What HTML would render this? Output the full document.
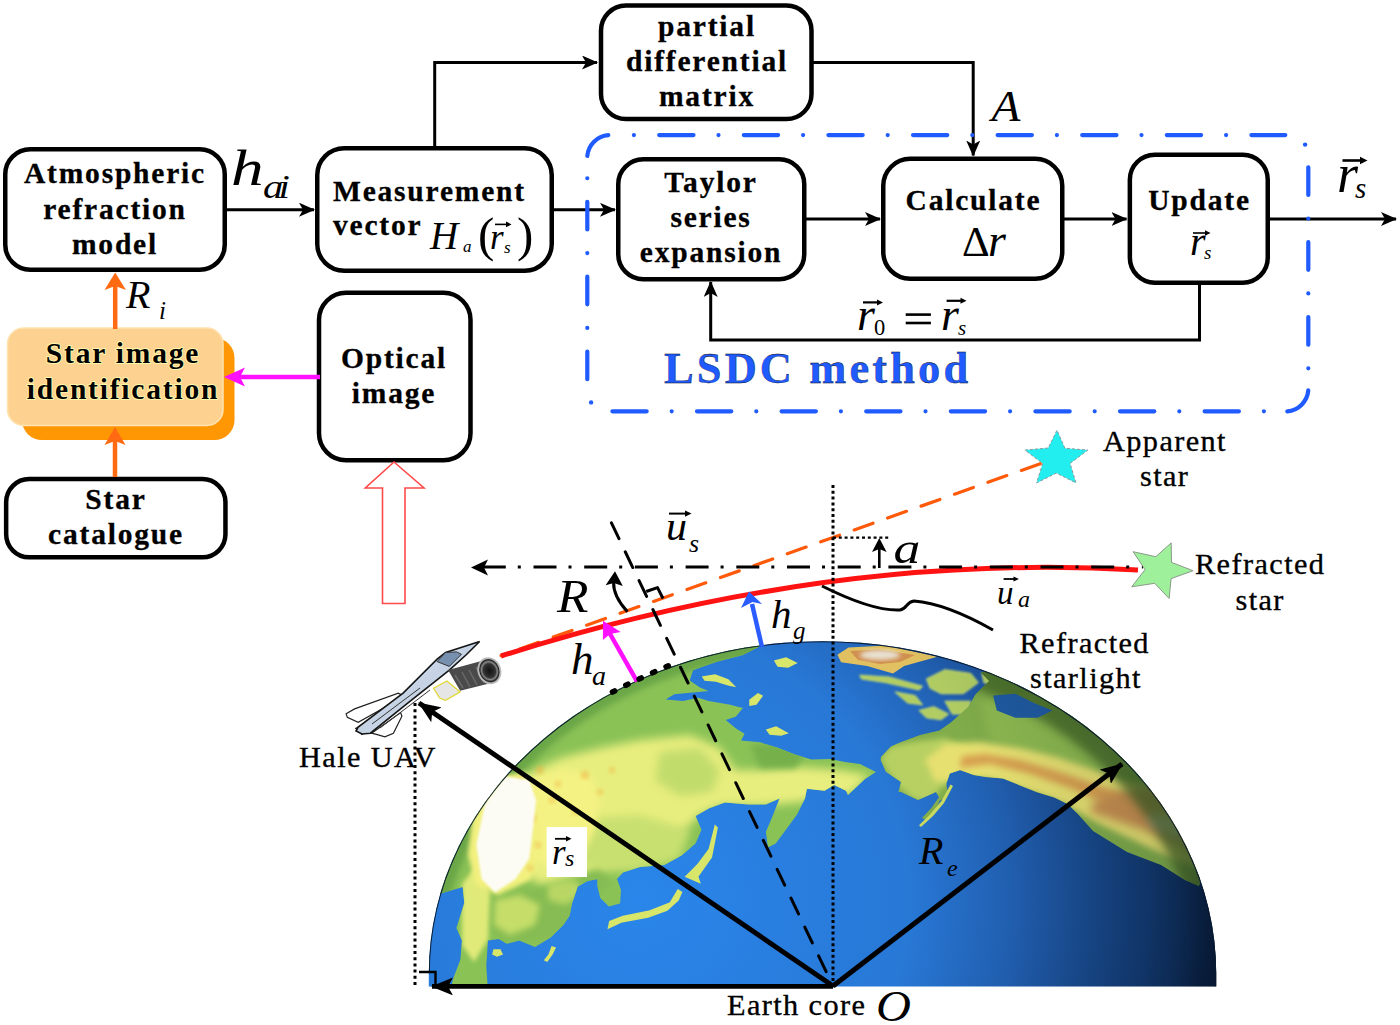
<!DOCTYPE html>
<html><head><meta charset="utf-8">
<style>
html,body{margin:0;padding:0;background:#fff;width:1400px;height:1025px;overflow:hidden}
svg{display:block}
.lb{font-family:"Liberation Serif",serif;font-weight:bold;font-size:29.5px;letter-spacing:1.8px;fill:#000;stroke:#000;stroke-width:0.3px}
.lr{font-family:"Liberation Serif",serif;font-weight:normal;font-size:30.3px;letter-spacing:1.4px;fill:#000;stroke:#000;stroke-width:0.35px}
.mi{font-family:"Liberation Serif",serif;font-style:italic;fill:#000}
.bx{fill:#fff;stroke:#000;stroke-width:4.5}
.ln{fill:none;stroke:#000;stroke-width:3}
</style></head>
<body>
<svg width="1400" height="1025" viewBox="0 0 1400 1025">
<defs>
  <marker id="ah" viewBox="0 0 16 14" refX="15" refY="7" markerWidth="16" markerHeight="14" markerUnits="userSpaceOnUse" orient="auto">
    <path d="M0,0 L16,7 L0,14 L4,7 Z" fill="#000"/>
  </marker>
</defs>

<!-- ===== TOP FLOWCHART ===== -->
<g id="flow">
  <!-- connectors -->
  <path class="ln" d="M227,209.7 L314,209.7" marker-end="url(#ah)"/>
  <path class="ln" d="M434.7,147 L434.7,62.5 L597,62.5" marker-end="url(#ah)"/>
  <path class="ln" d="M554,209.8 L615,209.8" marker-end="url(#ah)"/>
  <path class="ln" d="M813,62.6 L973.2,62.6 L973.2,155.5" marker-end="url(#ah)"/>
  <path class="ln" d="M806,219 L880,219" marker-end="url(#ah)"/>
  <path class="ln" d="M1064,219 L1126.5,219" marker-end="url(#ah)"/>
  <path class="ln" d="M1270,219 L1396,219" marker-end="url(#ah)"/>
  <path class="ln" d="M1199.5,285 L1199.5,340 L710.7,340 L710.7,282" marker-end="url(#ah)"/>

  <!-- boxes -->
  <rect class="bx" x="5.25" y="149.25" width="219.5" height="120.5" rx="25"/>
  <rect class="bx" x="317.25" y="148.25" width="234.5" height="122.5" rx="27"/>
  <rect class="bx" x="601" y="5.6" width="210.5" height="113.5" rx="25"/>
  <rect class="bx" x="618.25" y="159.25" width="186" height="120" rx="25"/>
  <rect class="bx" x="883.25" y="158.85" width="179" height="120" rx="27"/>
  <rect class="bx" x="1129.85" y="154.65" width="137.9" height="128.1" rx="25"/>
  <rect class="bx" x="6.15" y="479.05" width="219.3" height="78.3" rx="23"/>
  <rect class="bx" x="319" y="292.85" width="151.5" height="167.4" rx="27"/>

  <!-- star image identification -->
  <rect x="22" y="338" width="212.5" height="102" rx="20" fill="#ff9705"/>
  <rect x="7.5" y="328" width="215.5" height="97.5" rx="16" fill="#fdd190" stroke="#ffe3b0" stroke-width="1.5"/>

  <!-- orange arrows -->
  <path d="M115.2,329 L115.2,286" stroke="#ff6a13" stroke-width="4.5" fill="none"/>
  <path d="M104.5,290 L115.2,272.5 L126,290 L115.2,286 Z" fill="#ff6a13"/>
  <path d="M115,477 L115,441" stroke="#ff6a13" stroke-width="4.5" fill="none"/>
  <path d="M104.5,445 L115,427 L125.5,445 L115,441 Z" fill="#ff6a13"/>
  <!-- magenta arrow -->
  <path d="M320,377 L238,377" stroke="#ff10ff" stroke-width="4.5" fill="none"/>
  <path d="M245,367.5 L224,377 L245,386.5 L240,377 Z" fill="#ff10ff"/>
  <!-- red hollow arrow -->
  <path d="M394,462 L424,488 L405,488 L405,603.5 L382.5,603.5 L382.5,488 L365.3,488 Z" fill="#fff" stroke="#ff4a4a" stroke-width="1.6"/>

  <!-- blue dash-dot container -->
  <g fill="none" stroke="#1f5bff" stroke-width="4.2" stroke-linecap="round">
    <path d="M610.3,135.1 L1285.3,135.1" stroke-dasharray="34.3 25 0.001 25.299" stroke-dashoffset="35.7"/>
    <path d="M610.3,411.3 L1285.3,411.3" stroke-dasharray="34.3 25 0.001 25.299" stroke-dashoffset="82.5"/>
    <path d="M587.3,158 L587.3,388.3" stroke-dasharray="27.7 23.6 0.001 23.549" stroke-dashoffset="31.05"/>
    <path d="M1308.3,158 L1308.3,388.3" stroke-dasharray="27.7 23.6 0.001 23.549" stroke-dashoffset="65.55"/>
    <path d="M587.3,156 A23,23 0 0 1 608.3,135.1"/>
    <path d="M1308.3,390.3 A23,23 0 0 1 1287.3,411.3"/>
  </g>
  <circle cx="1305.1" cy="144.6" r="2.2" fill="#1f5bff"/>
  <circle cx="591.1" cy="402.4" r="2.2" fill="#1f5bff"/>

  <!-- labels -->
  <text class="lb" text-anchor="middle" x="115" y="183">Atmospheric</text>
  <text class="lb" text-anchor="middle" x="115" y="218.5">refraction</text>
  <text class="lb" text-anchor="middle" x="115" y="254">model</text>

  <text class="lb" x="333" y="200.7">Measurement</text>
  <text class="lb" x="333" y="235.4">vector</text>

  <text class="lb" text-anchor="middle" x="707" y="35.7">partial</text>
  <text class="lb" text-anchor="middle" x="707" y="71.4">differential</text>
  <text class="lb" text-anchor="middle" x="707" y="105.7">matrix</text>

  <text class="lb" text-anchor="middle" x="711" y="192.4">Taylor</text>
  <text class="lb" text-anchor="middle" x="711" y="226.8">series</text>
  <text class="lb" text-anchor="middle" x="711" y="262">expansion</text>

  <text class="lb" text-anchor="middle" x="973.5" y="210">Calculate</text>
  <text class="lb" text-anchor="middle" x="1199.5" y="209.7">Update</text>

  <text class="lb" text-anchor="middle" x="123" y="362.9" style="paint-order:stroke;stroke:#fff6a8;stroke-width:2">Star image</text>
  <text class="lb" text-anchor="middle" x="123" y="398.6" style="paint-order:stroke;stroke:#fff6a8;stroke-width:2">identification</text>

  <text class="lb" text-anchor="middle" x="116" y="509.3">Star</text>
  <text class="lb" text-anchor="middle" x="116" y="544.1">catalogue</text>

  <text class="lb" text-anchor="middle" x="394" y="368">Optical</text>
  <text class="lb" text-anchor="middle" x="394" y="402.8">image</text>

  <text class="lb" x="664" y="383" style="font-size:44.5px;letter-spacing:3.1px;fill:#1f5bff">LSDC method</text>

  <!-- math labels -->
  <text class="mi" x="0" y="0" font-size="51" transform="translate(231 185.3) scale(1.28 1)">h</text>
  <text class="mi" x="0" y="0" font-size="34" letter-spacing="-4" transform="translate(263 197.7) scale(1.2 1)">ai</text>

  <text class="mi" x="430" y="249" font-size="39">H</text>
  <text class="mi" x="463" y="252.3" font-size="17">a</text>
  <text x="478" y="251" font-family="Liberation Serif" font-size="49" style="font-weight:normal">(</text>
  <text x="517" y="251" font-family="Liberation Serif" font-size="49">)</text>
  <text class="mi" x="490" y="249" font-size="35">r</text>
  <text class="mi" x="504" y="252.8" font-size="17">s</text>
  <path d="M495,224.4 L509,224.4" stroke="#000" stroke-width="1.6"/><path d="M506,221.5 L511.5,224.4 L506,227.3 Z"/>

  <text class="mi" x="0" y="0" font-size="45" transform="translate(991.5 121) scale(1.05 1)">A</text>

  <text x="962" y="255.6" font-family="Liberation Serif" font-size="43">Δ</text>
  <text class="mi" x="988" y="255.6" font-size="46">r</text>

  <text class="mi" x="1190" y="255" font-size="40">r</text>
  <text class="mi" x="1204" y="259" font-size="19">s</text>
  <path d="M1193,233 L1208,233" stroke="#000" stroke-width="1.6"/><path d="M1205,230.2 L1210.5,233 L1205,235.8 Z"/>

  <text class="mi" x="1337" y="192.3" font-size="54">r</text>
  <text class="mi" x="1355" y="198" font-size="29">s</text>
  <path d="M1342.5,160.5 L1363,160.5" stroke="#000" stroke-width="2.6"/><path d="M1360,156.8 L1367.5,160.5 L1360,164.2 Z"/>

  <text class="mi" x="857" y="330" font-size="46">r</text>
  <text x="874" y="334.5" font-family="Liberation Serif" font-size="22.5">0</text>
  <rect x="905.7" y="313.3" width="25.2" height="2.6" fill="#000"/>
  <rect x="905.7" y="321.7" width="25.2" height="2.6" fill="#000"/>
  <text class="mi" x="941" y="330" font-size="46">r</text>
  <text class="mi" x="958" y="334.5" font-size="21">s</text>
  <path d="M863,302.4 L879.5,302.4" stroke="#000" stroke-width="2.2"/><path d="M877,299.4 L883,302.4 L877,305.4 Z"/>
  <path d="M946.6,300.8 L963,300.8" stroke="#000" stroke-width="2.2"/><path d="M960.5,297.8 L966.5,300.8 L960.5,303.8 Z"/>

  <text class="mi" x="126" y="308.4" font-size="40">R</text>
  <text class="mi" x="159" y="319" font-size="25">i</text>
</g>

<!-- ===== EARTH SCENE ===== -->
<g id="scene">
  <defs>
    <clipPath id="earthclip"><path d="M428.8,973.2 A393.7,332.2 0 0 1 1216.2,973.2 L1216.2,986.5 L428.8,986.5 Z"/></clipPath>
    <radialGradient id="ocean" cx="640" cy="900" r="600" gradientUnits="userSpaceOnUse">
      <stop offset="0" stop-color="#2a86ea"/>
      <stop offset="0.45" stop-color="#2878d6"/>
      <stop offset="0.65" stop-color="#1f5aa8"/>
      <stop offset="0.85" stop-color="#123a70"/>
      <stop offset="1" stop-color="#08182e"/>
    </radialGradient>
    <filter id="bl1" x="-20%" y="-20%" width="140%" height="140%"><feGaussianBlur stdDeviation="1"/></filter>
    <filter id="bl2" x="-20%" y="-20%" width="140%" height="140%"><feGaussianBlur stdDeviation="2"/></filter>
    <filter id="bl3" x="-20%" y="-20%" width="140%" height="140%"><feGaussianBlur stdDeviation="3"/></filter>
    <filter id="bl4" x="-20%" y="-20%" width="140%" height="140%"><feGaussianBlur stdDeviation="5"/></filter>
    <radialGradient id="shade" cx="640" cy="900" r="600" gradientUnits="userSpaceOnUse">
      <stop offset="0" stop-color="#000a20" stop-opacity="0"/>
      <stop offset="0.6" stop-color="#000a20" stop-opacity="0"/>
      <stop offset="0.9" stop-color="#000a20" stop-opacity="0.15"/>
      <stop offset="1" stop-color="#000a20" stop-opacity="0.45"/>
    </radialGradient>
    <marker id="ahs" viewBox="0 0 22 18" refX="21" refY="9" markerWidth="22" markerHeight="18" markerUnits="userSpaceOnUse" orient="auto">
      <path d="M0,0 L22,9 L0,18 L5,9 Z" fill="#000"/>
    </marker>
  </defs>
  <g id="earth" clip-path="url(#earthclip)">
    <rect x="420" y="630" width="810" height="360" fill="url(#ocean)"/>
    <g id="land"><!--LAND-->
    <path d="M400.0,893.0 L440.7,893.4 L462.7,887.1 L464.3,902.9 L456.4,928.0 L461.9,940.6 L460.4,959.4 L453.3,978.3 L450.1,992.0 L488.0,992.0 L486.3,965.7 L487.9,940.6 L498.9,939.0 L506.7,943.7 L519.3,940.6 L535.0,946.9 L550.7,937.4 L563.3,924.9 L569.6,915.4 L572.0,903.6 L577.7,886.6 L587.6,881.0 L597.5,879.0 L597.5,886.0 L600.3,898.0 L608.8,906.4 L620.1,903.6 L621.0,890.0 L617.0,879.0 L623.0,872.5 L640.0,866.9 L664.4,864.9 L682.0,855.2 L695.6,843.5 L701.5,829.8 L695.6,816.1 L709.3,808.3 L724.9,802.5 L748.4,804.4 L765.9,804.4 L779.6,798.6 L771.8,818.1 L765.9,831.7 L767.9,847.4 L775.7,843.5 L787.4,827.8 L797.2,814.2 L805.0,798.6 L806.9,788.8 L824.5,790.8 L834.2,784.9 L846.0,790.8 L848.0,795.0 L865.0,779.0 L876.0,772.0 L860.0,764.0 L845.0,762.0 L830.0,759.0 L811.4,759.4 L794.3,754.3 L777.1,747.4 L760.0,742.3 L741.1,740.6 L744.6,733.7 L736.0,728.6 L725.7,720.0 L736.0,716.6 L742.9,708.0 L729.1,704.6 L708.6,701.1 L698.3,697.7 L682.9,701.1 L665.7,699.4 L674.3,694.3 L708.6,690.9 L700.0,687.4 L689.7,680.6 L693.1,670.3 L701.7,666.9 L717.1,661.7 L742.9,654.9 L760.0,646.3 L760.0,600.0 L400.0,600.0 Z" fill="#8ac256"/>
    <clipPath id="euclip"><path d="M400.0,893.0 L440.7,893.4 L462.7,887.1 L464.3,902.9 L456.4,928.0 L461.9,940.6 L460.4,959.4 L453.3,978.3 L450.1,992.0 L488.0,992.0 L486.3,965.7 L487.9,940.6 L498.9,939.0 L506.7,943.7 L519.3,940.6 L535.0,946.9 L550.7,937.4 L563.3,924.9 L569.6,915.4 L572.0,903.6 L577.7,886.6 L587.6,881.0 L597.5,879.0 L597.5,886.0 L600.3,898.0 L608.8,906.4 L620.1,903.6 L621.0,890.0 L617.0,879.0 L623.0,872.5 L640.0,866.9 L664.4,864.9 L682.0,855.2 L695.6,843.5 L701.5,829.8 L695.6,816.1 L709.3,808.3 L724.9,802.5 L748.4,804.4 L765.9,804.4 L779.6,798.6 L771.8,818.1 L765.9,831.7 L767.9,847.4 L775.7,843.5 L787.4,827.8 L797.2,814.2 L805.0,798.6 L806.9,788.8 L824.5,790.8 L834.2,784.9 L846.0,790.8 L848.0,795.0 L865.0,779.0 L876.0,772.0 L860.0,764.0 L845.0,762.0 L830.0,759.0 L811.4,759.4 L794.3,754.3 L777.1,747.4 L760.0,742.3 L741.1,740.6 L744.6,733.7 L736.0,728.6 L725.7,720.0 L736.0,716.6 L742.9,708.0 L729.1,704.6 L708.6,701.1 L698.3,697.7 L682.9,701.1 L665.7,699.4 L674.3,694.3 L708.6,690.9 L700.0,687.4 L689.7,680.6 L693.1,670.3 L701.7,666.9 L717.1,661.7 L742.9,654.9 L760.0,646.3 L760.0,600.0 L400.0,600.0 Z"/></clipPath>
    <g clip-path="url(#euclip)">
    <path d="M500.0,790.0 L525.0,775.0 L560.0,758.0 L600.0,748.0 L640.0,740.0 L690.0,735.0 L720.0,748.0 L735.0,770.0 L760.0,770.0 L800.0,767.0 L840.0,770.0 L870.0,775.0 L850.0,795.0 L800.0,802.0 L760.0,806.0 L720.0,806.0 L700.0,815.0 L680.0,835.0 L650.0,850.0 L620.0,862.0 L590.0,870.0 L560.0,880.0 L540.0,885.0 L520.0,870.0 L505.0,830.0 Z" fill="#e8ee7e" filter="url(#bl4)"/>
    <path d="M660.0,752.0 L700.0,748.0 L720.0,770.0 L712.0,792.0 L680.0,796.0 L655.0,780.0 Z" fill="#a8d060" opacity="0.6" filter="url(#bl4)"/>
    <path d="M750.0,745.0 L790.0,742.0 L805.0,755.0 L795.0,768.0 L760.0,768.0 Z" fill="#76b04c" filter="url(#bl3)"/>
    <path d="M560.0,820.0 L640.0,815.0 L690.0,830.0 L680.0,860.0 L640.0,872.0 L600.0,872.0 L570.0,860.0 Z" fill="#c8e070" filter="url(#bl4)"/>
    <path d="M492.0,898.0 L530.0,890.0 L565.0,885.0 L598.0,870.0 L612.0,882.0 L592.0,902.0 L572.0,922.0 L552.0,938.0 L520.0,942.0 L500.0,940.0 L490.0,925.0 Z" fill="#86bc52" filter="url(#bl3)"/>
    <path d="M495.0,900.0 L520.0,895.0 L540.0,905.0 L535.0,925.0 L510.0,935.0 L494.0,925.0 Z" fill="#d6e670" opacity="0.8" filter="url(#bl3)"/>
    <path d="M548.0,884.0 L575.0,880.0 L585.0,893.0 L565.0,905.0 L548.0,900.0 Z" fill="#cfe26c" opacity="0.7" filter="url(#bl3)"/>
    <path d="M462.0,884.0 L476.0,866.0 L490.0,892.0 L488.0,940.0 L474.0,962.0 L462.0,945.0 Z" fill="#e0ea78" filter="url(#bl2)"/>
    <path d="M428.8,973.2 A393.7,332.2 0 0 1 1216.2,973.2 L1216.2,986.5" fill="none" stroke="#6aa646" stroke-width="20" filter="url(#bl3)"/>
    <path d="M500.0,776.0 L525.0,772.0 L540.0,790.0 L536.0,806.0 L545.0,825.0 L540.0,858.0 L530.0,880.0 L498.0,895.0 L476.0,885.0 L468.0,855.0 L472.0,820.0 L490.0,790.0 Z" fill="#f2f07e" filter="url(#bl2)"/>
    <path d="M530.0,780.0 L560.0,770.0 L590.0,775.0 L600.0,800.0 L595.0,830.0 L580.0,860.0 L555.0,872.0 L538.0,860.0 L536.0,820.0 Z" fill="#f4f282" filter="url(#bl3)"/>
    <circle cx="540" cy="770" r="4" fill="#f0b040" opacity="0.55" filter="url(#bl2)"/>
    <circle cx="558" cy="784" r="3" fill="#f0b040" opacity="0.55" filter="url(#bl2)"/>
    <circle cx="585" cy="775" r="4" fill="#f0b040" opacity="0.55" filter="url(#bl2)"/>
    <circle cx="552" cy="800" r="3" fill="#f0b040" opacity="0.55" filter="url(#bl2)"/>
    <circle cx="600" cy="792" r="3" fill="#f0b040" opacity="0.55" filter="url(#bl2)"/>
    <circle cx="532" cy="818" r="4" fill="#f0b040" opacity="0.55" filter="url(#bl2)"/>
    <circle cx="575" cy="812" r="3" fill="#f0b040" opacity="0.55" filter="url(#bl2)"/>
    <circle cx="612" cy="770" r="3" fill="#f0b040" opacity="0.55" filter="url(#bl2)"/>
    <circle cx="538" cy="845" r="3" fill="#f0b040" opacity="0.55" filter="url(#bl2)"/>
    <circle cx="530" cy="868" r="3" fill="#f0b040" opacity="0.55" filter="url(#bl2)"/>
    <circle cx="520" cy="780" r="3" fill="#f0b040" opacity="0.55" filter="url(#bl2)"/>
    <path d="M505.4,776.6 L529.3,780.0 L536.1,800.5 L532.7,831.2 L529.3,858.5 L515.6,879.0 L495.1,892.6 L481.5,879.0 L476.3,844.8 L484.9,803.9 Z" fill="#fcfcf4" filter="url(#bl1)"/>
    </g>
    <path d="M678.1,890.0 L670.3,903.0 L650.0,911.0 L623.0,916.5 L609.8,921.5 L608.5,928.0 L621.0,922.0 L648.0,917.0 L667.0,910.0 L678.1,900.0 L681.5,892.3 Z" fill="#d8e66a" stroke="#d8e66a" stroke-width="1.5"/>
    <path d="M715.2,825.9 L709.3,849.3 L697.6,864.9 L691.7,870.8 L685.9,876.6 L699.6,882.5 L697.6,876.6 L711.3,857.1 L717.1,827.8 Z" fill="#d8e66a" stroke="#d8e66a" stroke-width="1.5"/>
    <path d="M552.0,947.0 L549.0,955.0 L545.0,960.0 L547.0,961.0 L552.0,954.0 L555.0,948.0 Z" fill="#d8e66a" stroke="#d8e66a" stroke-width="1.5"/>
    <path d="M494.0,950.0 L500.0,950.0 L502.0,954.0 L497.0,956.0 L493.0,954.0 Z" fill="#d8e66a" stroke="#d8e66a" stroke-width="1.5"/>
    <path d="M703.0,677.0 L715.0,675.0 L728.0,680.0 L734.0,686.0 L729.0,685.0 L716.0,681.0 L705.0,680.0 Z" fill="#d8e66a" stroke="#d8e66a" stroke-width="1.5"/>
    <path d="M750.0,700.0 L758.0,694.0 L762.0,696.0 L756.0,704.0 L750.0,705.0 Z" fill="#d8e66a" stroke="#d8e66a" stroke-width="1.5"/>
    <path d="M775.0,661.0 L786.0,658.0 L796.0,663.0 L788.0,667.0 L778.0,666.0 Z" fill="#d8e66a" stroke="#d8e66a" stroke-width="1.5"/>
    <path d="M767.0,730.0 L776.0,727.0 L787.0,733.0 L781.0,735.0 L770.0,734.0 Z" fill="#d8e66a" stroke="#d8e66a" stroke-width="1.5"/>
    <path d="M837.4,654.8 L848.5,647.4 L885.6,645.6 L937.5,656.7 L904.1,665.9 L893.0,673.4 L867.1,665.9 L841.1,662.2 Z" fill="#e0c060"/>
    <path d="M850.0,651.0 L878.0,649.5 L915.0,655.0 L900.0,662.0 L880.0,664.0 L858.0,660.0 Z" fill="#d09050"/>
    <ellipse cx="880" cy="655" rx="20" ry="5" fill="#e8e0d0" filter="url(#bl2)"/>
    <path d="M919.0,710.4 L933.8,706.7 L948.6,714.1 L941.2,719.7 L926.4,717.8 Z" fill="#b0cc62" stroke="#c8dc70" stroke-width="1" filter="url(#bl1)"/>
    <path d="M926.4,678.9 L944.9,669.7 L970.8,673.4 L978.3,682.6 L963.4,693.7 L941.2,693.7 L930.1,688.2 Z" fill="#b0cc62" stroke="#c8dc70" stroke-width="1" filter="url(#bl1)"/>
    <path d="M944.9,701.2 L970.8,701.2 L967.1,714.1 L952.3,714.1 Z" fill="#b0cc62" stroke="#c8dc70" stroke-width="1" filter="url(#bl1)"/>
    <path d="M982.0,673.4 L996.8,677.1 L991.2,684.5 L983.8,682.6 Z" fill="#b0cc62" stroke="#c8dc70" stroke-width="1" filter="url(#bl1)"/>
    <path d="M859.7,675.2 L889.3,677.1 L922.7,686.3 L919.0,690.0 L885.6,682.6 L861.5,678.9 Z" fill="#b0cc62" stroke="#c8dc70" stroke-width="1" filter="url(#bl1)"/>
    <path d="M894.9,691.9 L915.2,695.6 L922.7,704.9 L907.8,703.0 Z" fill="#b0cc62" stroke="#c8dc70" stroke-width="1" filter="url(#bl1)"/>
    <path d="M881.0,757.0 L890.9,746.5 L900.0,742.6 L920.0,735.0 L939.4,730.6 L951.4,722.0 L968.6,706.6 L975.4,694.6 L989.1,680.9 L980.6,672.3 L1000.0,670.0 L1100.0,690.0 L1250.0,700.0 L1250.0,880.0 L1202.0,875.0 L1199.0,886.0 L1185.0,880.0 L1161.0,865.0 L1127.0,852.0 L1093.0,831.0 L1078.3,814.6 L1068.0,804.3 L1054.3,797.4 L1037.1,792.3 L1020.0,785.4 L1002.9,778.6 L985.7,776.9 L973.7,775.1 L960.0,770.0 L949.7,773.4 L946.3,783.7 L948.0,795.7 L939.4,800.9 L934.3,814.6 L925.7,819.7 L922.0,818.0 L931.4,808.0 L939.0,797.2 L936.0,792.0 L918.0,800.0 L901.0,792.0 L898.5,792.1 L901.0,782.0 L885.8,771.8 L880.7,760.0 Z" fill="#80ac4a"/>
    <clipPath id="naclip"><path d="M881.0,757.0 L890.9,746.5 L900.0,742.6 L920.0,735.0 L939.4,730.6 L951.4,722.0 L968.6,706.6 L975.4,694.6 L989.1,680.9 L980.6,672.3 L1000.0,670.0 L1100.0,690.0 L1250.0,700.0 L1250.0,880.0 L1202.0,875.0 L1199.0,886.0 L1185.0,880.0 L1161.0,865.0 L1127.0,852.0 L1093.0,831.0 L1078.3,814.6 L1068.0,804.3 L1054.3,797.4 L1037.1,792.3 L1020.0,785.4 L1002.9,778.6 L985.7,776.9 L973.7,775.1 L960.0,770.0 L949.7,773.4 L946.3,783.7 L948.0,795.7 L939.4,800.9 L934.3,814.6 L925.7,819.7 L922.0,818.0 L931.4,808.0 L939.0,797.2 L936.0,792.0 L918.0,800.0 L901.0,792.0 L898.5,792.1 L901.0,782.0 L885.8,771.8 L880.7,760.0 Z"/></clipPath>
    <g clip-path="url(#naclip)">
    <path d="M980.0,700.0 L1050.0,690.0 L1120.0,720.0 L1150.0,770.0 L1100.0,775.0 L1040.0,760.0 L990.0,740.0 Z" fill="#8cb850" filter="url(#bl4)"/>
    <path d="M880.0,758.0 L891.0,746.0 L913.0,742.0 L945.0,738.0 L965.0,748.0 L960.0,775.0 L941.0,788.0 L930.0,803.0 L913.0,799.0 L900.0,788.0 L886.0,770.0 Z" fill="#b8d062" filter="url(#bl3)"/>
    <path d="M935.0,782.0 L985.0,778.0 L1020.0,788.0 L1060.0,802.0 L1100.0,824.0 L1150.0,848.0 L1200.0,870.0 L1250.0,880.0 L1250.0,830.0 L1200.0,808.0 L1150.0,788.0 L1100.0,772.0 L1060.0,758.0 L1020.0,748.0 L980.0,742.0 L945.0,744.0 L925.0,760.0 Z" fill="#e6e070" filter="url(#bl3)"/>
    <path d="M960.0,768.0 L990.0,764.0 L1030.0,774.0 L1070.0,788.0 L1110.0,806.0 L1160.0,828.0 L1210.0,850.0 L1250.0,860.0 L1250.0,844.0 L1200.0,822.0 L1150.0,802.0 L1100.0,786.0 L1060.0,772.0 L1020.0,760.0 L985.0,754.0 L962.0,756.0 Z" fill="#d8a050" filter="url(#bl3)"/>
    <path d="M1090.0,812.0 L1150.0,832.0 L1205.0,858.0 L1240.0,868.0 L1240.0,790.0 L1190.0,782.0 L1130.0,790.0 L1095.0,800.0 Z" fill="#c89050" filter="url(#bl4)"/>
    <ellipse cx="1170" cy="826" rx="22" ry="9" transform="rotate(25 1170 826)" fill="#d8c8b0" filter="url(#bl4)"/>
    <path d="M428.8,973.2 A393.7,332.2 0 0 1 1216.2,973.2 L1216.2,986.5" fill="none" stroke="#3e5e22" stroke-width="40" opacity="0.75" filter="url(#bl4)"/>
    </g>
    <path d="M993.1,695.6 L1015.3,693.7 L1033.9,703.0 L1052.4,710.4 L1037.6,717.8 L1015.3,717.8 L996.8,710.4 Z" fill="#1f5aa0"/>
    <path d="M950.5,784.6 L941.2,801.2 L930.1,814.2 L919.0,825.3 L921.0,827.0 L933.0,816.0 L944.0,803.0 L953.0,786.0 Z" fill="#c8d860"/>
    <!--/LAND--></g>
    <rect id="shadeRect" x="420" y="630" width="810" height="360" fill="url(#shade)"/>
    <path d="M428.8,973.2 A393.7,332.2 0 0 1 1216.2,973.2 L1216.2,986.5" fill="none" stroke="#0a1a30" stroke-width="2"/>
  </g>

  <!-- orange apparent ray -->
  <path d="M501,655.7 L1045,462" stroke="#ff5a0a" stroke-width="3.2" stroke-linecap="round" stroke-dasharray="20 15.5" stroke-dashoffset="15.6" fill="none"/>
  <!-- refracted starlight red -->
  <path d="M501,656 Q830,552 1138,570" stroke="#ff1212" stroke-width="5" fill="none"/>
  <!-- dash-dot horizontal arrow -->
  <path d="M476,567 L1143,567" stroke="#000" stroke-width="3" stroke-dasharray="23 12 3 12.7" stroke-dashoffset="43.9" fill="none"/>
  <path d="M488,559.5 L471,567.5 L488,575.5 L484,567.5 Z" fill="#000"/>
  <!-- vertical dotted -->
  <path d="M833,485 L833,985" stroke="#000" stroke-width="3" stroke-dasharray="3 2.8" fill="none"/>
  <path d="M833,537.6 L891,537.6" stroke="#000" stroke-width="2.4" stroke-dasharray="3 2.8" fill="none"/>
  <!-- small alpha arrow -->
  <path d="M879.3,568 L879.3,548" stroke="#000" stroke-width="2.6" fill="none"/>
  <path d="M872,552 L879.3,538 L886.6,552 L879.3,549 Z" fill="#000"/>
  <!-- normal dashed line -->
  <path d="M611,522 L833,986" stroke="#000" stroke-width="3" stroke-linecap="round" stroke-dasharray="17.5 14.5" stroke-dashoffset="-1" fill="none"/>
  <!-- right angle mark -->
  <path d="M646.2,591.5 L657.5,587.6 L663,598.5" stroke="#000" stroke-width="3" stroke-linejoin="round" fill="none"/>
  <!-- curved angle arrow -->
  <path d="M627.5,611.8 Q613,596 613.6,582" stroke="#000" stroke-width="3" fill="none"/>
  <path d="M605.6,585.3 L615,571.2 L622.8,586 L613.8,583 Z" fill="#000"/>
  <!-- blue hg arrow -->
  <path d="M762,647 L752,604" stroke="#2a5cff" stroke-width="4.5" fill="none"/>
  <path d="M741,608 L749,591.5 L762,604 L752.5,602 Z" fill="#2a5cff"/>
  <!-- magenta ha arrow -->
  <path d="M637,681.4 L609.5,633" stroke="#ff10ff" stroke-width="4.5" fill="none"/>
  <path d="M602.9,640 L603,620.7 L620.7,632 L610,634 Z" fill="#ff10ff"/>
  <!-- thick dashes on earth surface -->
  <path d="M612.5,692 Q641,677.5 669,665.5" stroke="#000" stroke-width="5.6" stroke-linecap="round" stroke-dasharray="2.4 12.4" fill="none"/>
  <!-- pointer -->
  <path d="M822,586 C850,600 880,611 900,610 C907,609 906,602 914,601 C940,603 970,617 993,630" stroke="#000" stroke-width="3" fill="none"/>
  <!-- radius arrows -->
  <path d="M833,986 L419,703" stroke="#000" stroke-width="5" marker-end="url(#ahs)" fill="none"/>
  <path d="M833,986 L1122,764" stroke="#000" stroke-width="5" marker-end="url(#ahs)" fill="none"/>
  <path d="M833,986.4 L432,986.4" stroke="#000" stroke-width="4.6" marker-end="url(#ahs)" fill="none"/>
  <!-- uav dotted vertical + right angle -->
  <path d="M415,703 L415,986" stroke="#000" stroke-width="3" stroke-dasharray="3 3.2" fill="none"/>
  <path d="M419,972 L435.5,972 L435.5,986" stroke="#000" stroke-width="2.4" fill="none"/>

  <!-- stars -->
  <path d="M1024.9,450.1 L1048.2,448.0 L1057.0,430.2 L1064.9,448.2 L1087.8,450.1 L1070.1,463.4 L1076.0,482.9 L1056.4,473.1 L1036.6,482.9 L1042.7,463.4 Z" fill="#22eef0" stroke="#8a9a9a" stroke-width="1" stroke-dasharray="3 2"/>
  <path d="M1133.1,551.7 L1155.8,556.7 L1171.2,542.9 L1171.5,562.4 L1193.1,570.7 L1171.1,578.6 L1169.1,598.5 L1154.7,583.3 L1131.7,586.8 L1145.1,569.6 Z" fill="#9ff09a" stroke="#8a9a8a" stroke-width="1"/>

  <!-- UAV -->
  <g id="uav">
    <defs>
      <linearGradient id="fus" x1="0" y1="0" x2="1" y2="1">
        <stop offset="0" stop-color="#f4f8fc"/><stop offset="0.5" stop-color="#c4d2e4"/><stop offset="1" stop-color="#fafcfe"/>
      </linearGradient>
      <radialGradient id="lensg" cx="0.5" cy="0.5" r="0.5"><stop offset="0" stop-color="#111"/><stop offset="0.55" stop-color="#333"/><stop offset="0.7" stop-color="#888"/><stop offset="0.85" stop-color="#222"/><stop offset="1" stop-color="#ccc"/></radialGradient>
    </defs>
    <path d="M346.1,713.8 L354.6,708.9 L398.3,693.1 L403.1,695.6 L388.6,705.3 L358.2,722.3 L347.3,717.4 Z" fill="#fff" stroke="#222" stroke-width="1.2"/>
    <path d="M371.6,733.2 L400.7,712.6 L401.9,716.2 L393.4,733.2 L384.9,736.9 L376.4,734.4 Z" fill="#fff" stroke="#222" stroke-width="1.2"/>
    <path d="M355.8,728.4 L370.4,721.1 L374,727.1 L361.9,734.4 Z" fill="#fff" stroke="#222" stroke-width="1.2"/>
    <path d="M479.6,641.5 L445.6,652.5 L437.1,659.1 L403.1,693.1 L358.2,727.1 L356,731 L362,734 L370.4,733.2 L408,702.9 L449.3,670.1 L466,655 Z" fill="url(#fus)" stroke="#151515" stroke-width="1.6"/>
    <path d="M445.6,652.5 L456.6,651.9 L461.4,654.3 L449.3,666.4 L437.1,661.6 Z" fill="#7890b0" stroke="#333" stroke-width="1"/>
    <path d="M372,724 L420,688 M380,728 L430,690" stroke="#333" stroke-width="1"/>
    <path d="M433.5,688.3 L446.9,681 L460.2,691.9 L445.6,700.4 L439.6,698 Z" fill="#e6e6e6" stroke="#e0d838" stroke-width="1.3"/>
    <path d="M448.1,670.1 L483.3,660.4 L494.2,682.2 L460.2,690.7 Z" fill="#4a4a4a"/>
    <path d="M455,675 L463,688 M462,672 L470,687 M469,670 L477,685 M476,667 L484,683" stroke="#6a6a6a" stroke-width="1.5"/>
    <ellipse cx="489.4" cy="670.7" rx="11" ry="13" transform="rotate(-20 489.4 670.7)" fill="url(#lensg)" stroke="#bbb" stroke-width="1.5"/>
  </g>

  <!-- r_s label box -->
  <rect x="546.6" y="827" width="40.4" height="50" fill="#fff"/>
  <text class="mi" x="552" y="863.5" font-size="35">r</text>
  <text class="mi" x="565" y="866" font-size="24">s</text>
  <path d="M555,838.8 L569,838.8" stroke="#000" stroke-width="1.8"/><path d="M566,836 L571.5,838.8 L566,841.6 Z"/>

  <!-- scene labels -->
  <text class="lr" x="1103" y="451">Apparent</text>
  <text class="lr" x="1140" y="485.5">star</text>
  <text class="lr" x="1195" y="573.6">Refracted</text>
  <text class="lr" x="1235.5" y="609.6">star</text>
  <text class="lr" x="1019.5" y="652.6">Refracted</text>
  <text class="lr" x="1030" y="687.5">starlight</text>
  <text class="lr" x="299" y="766.6">Hale UAV</text>
  <text class="lr" x="727" y="1015" letter-spacing="0.6">Earth core</text>
  <text class="mi" x="876" y="1021" font-size="44" transform="translate(876 0) scale(1.1 1) translate(-876 0)">O</text>

  <text class="mi" x="666" y="540.4" font-size="42">u</text>
  <text class="mi" x="689" y="552" font-size="26">s</text>
  <path d="M669,513.6 L688,513.6" stroke="#000" stroke-width="2"/><path d="M685,510.4 L691.5,513.6 L685,516.8 Z"/>
  <text class="mi" x="0" y="0" font-size="46" transform="translate(557 612) scale(1.12 1)">R</text>
  <text class="mi" x="0" y="0" font-size="44" transform="translate(893.5 563) scale(1.22 1)">a</text>
  <text class="mi" x="997" y="603.6" font-size="33">u</text>
  <text class="mi" x="1018" y="607" font-size="24">a</text>
  <path d="M1003.6,579 L1016,579" stroke="#000" stroke-width="1.8"/><path d="M1013.5,576.5 L1019,579 L1013.5,581.5 Z"/>
  <text class="mi" x="771" y="628.2" font-size="41">h</text>
  <text class="mi" x="793" y="639" font-size="25">g</text>
  <text class="mi" x="571" y="674.3" font-size="45">h</text>
  <text class="mi" x="592" y="685" font-size="28">a</text>
  <text class="mi" x="919" y="864.4" font-size="40">R</text>
  <text class="mi" x="947" y="875.8" font-size="24">e</text>
</g>

</svg>
</body></html>
